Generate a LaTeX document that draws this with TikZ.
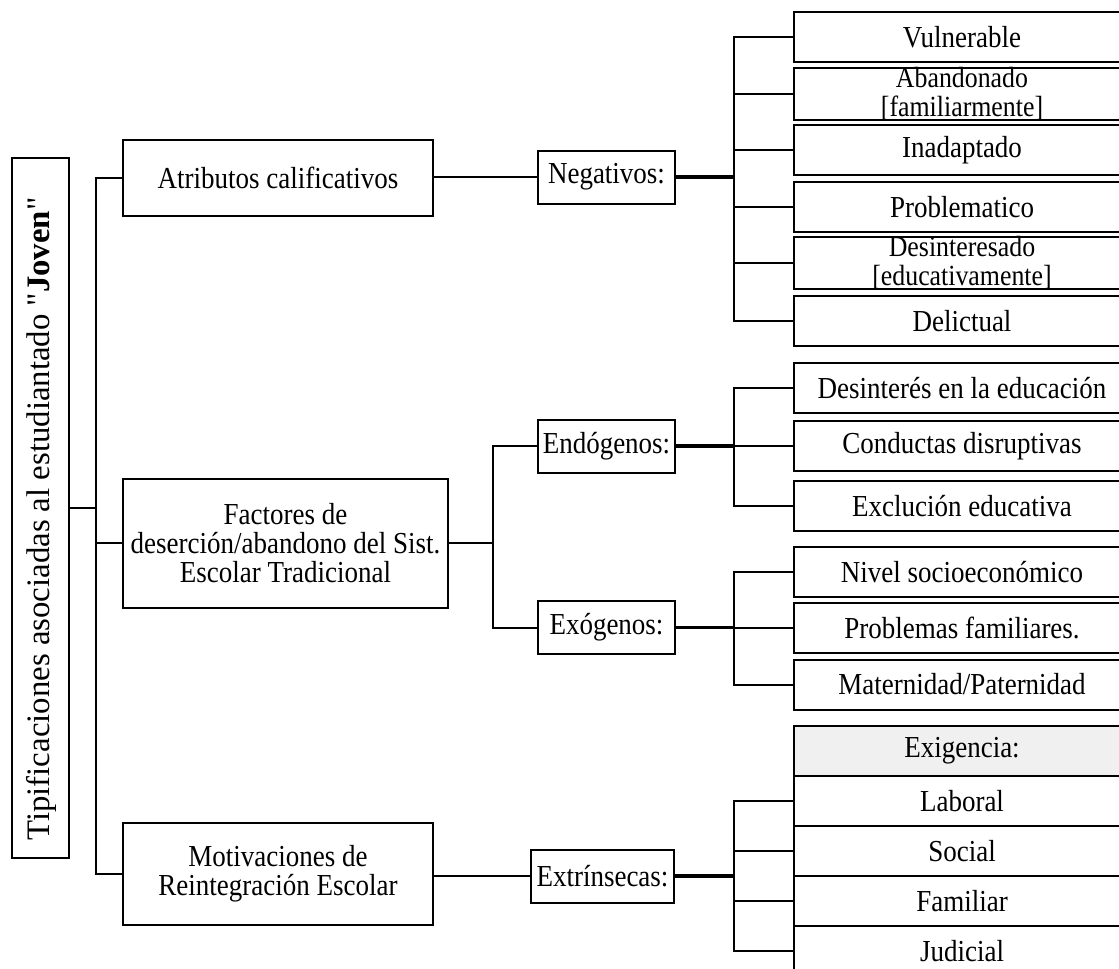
\documentclass[tikz,border=0pt]{standalone}
\usepackage{fontspec}
\setmainfont{Liberation Serif}[Ligatures=TeXOff]
% narrow variant used inside the horizontal boxes
\newfontfamily\boxfont{Liberation Serif}[FakeStretch=0.885,Ligatures=TeXOff]
\begin{document}
\begin{tikzpicture}[x=0.5pt,y=-0.5pt,
  box/.style={draw,line width=1pt,rectangle,inner sep=0pt,align=center,
              font=\boxfont\fontsize{15.25}{13.6}\selectfont},
  leaf/.style={box,minimum width=168pt,minimum height=25pt},
  twoline/.style={font=\boxfont\fontsize{14.6}{14.2}\selectfont},
  mid/.style={box,minimum height=26.5pt},
  wire/.style={line width=1pt},
  stub/.style={line width=1.6pt}]
\useasboundingbox (0,0) rectangle (1119,969);
\clip (0,0) rectangle (1119,969);

% root
\node[box,rotate=90,minimum width=350pt,minimum height=28.5pt] (root) at (40.5,508) {};
\node[rotate=90,inner sep=0pt,font=\fontsize{16.4}{16}\selectfont] (roottext) at (41,519)
  {Tipificaciones asociadas al estudiantado "\textbf{Joven}"};

% first level
\node[box,minimum width=155pt,minimum height=38pt] (att) at (278,178) {Atributos calificativos};
\node[box,minimum width=162.5pt,minimum height=64.5pt,font=\boxfont\fontsize{15.25}{14.4}\selectfont] (fac) at (285.5,543)
  {Factores de\\deserción/abandono del Sist.\\Escolar Tradicional};
\node[box,minimum width=155pt,minimum height=51pt,font=\boxfont\fontsize{15.25}{14.4}\selectfont] (mot) at (278,874)
  {Motivaciones de\\Reintegración Escolar};

% second level
\node[mid,minimum width=68.5pt] (neg) at (606.5,177) {Negativos:};
\node[mid,minimum width=68.5pt] (endo) at (606.5,446) {Endógenos:};
\node[mid,minimum width=68.5pt] (exo) at (606.5,627.5) {Exógenos:};
\node[mid,minimum width=71.5pt] (ext) at (602.5,876) {Extrínsecas:};

% leaves
\node[leaf] (l1) at (962,37) {Vulnerable};
\node[leaf,twoline] (l2) at (962,94) {Abandonado\\[0pt][familiarmente]};
\node[leaf] (l3) at (962,150) {Inadaptado};
\node[leaf] (l4) at (962,207) {Problematico};
\node[leaf,twoline] (l5) at (962,263) {Desinteresado\\[0pt][educativamente]};
\node[leaf] (l6) at (962,321) {Delictual};

\node[leaf] (e1) at (962,388) {Desinterés en la educación};
\node[leaf] (e2) at (962,446) {Conductas disruptivas};
\node[leaf] (e3) at (962,506) {Exclución educativa};

\node[leaf] (x1) at (962,572) {Nivel socioeconómico};
\node[leaf] (x2) at (962,628) {Problemas familiares.};
\node[leaf] (x3) at (962,684.5) {Maternidad/Paternidad};

\node[leaf,fill=black!6] (m0) at (962,751) {Exigencia:};
\node[leaf] (m1) at (962,801) {Laboral};
\node[leaf] (m2) at (962,851) {Social};
\node[leaf] (m3) at (962,901) {Familiar};
\node[leaf] (m4) at (962,951) {Judicial};

% branch lines
\coordinate (t0) at (96,0);
\coordinate (t1) at (493,0);
\coordinate (t2) at (734,0);

\draw[wire] (root.south) -- (t0 |- root.south);
\draw[wire] (att.west) -- (t0 |- att.west) -- (t0 |- mot.west) -- (mot.west);
\draw[wire] (t0 |- fac.west) -- (fac.west);

\draw[wire] (att.east |- neg.west) -- (neg.west);
\draw[wire] (mot.east |- ext.west) -- (ext.west);

\draw[wire] (fac.east) -- (t1 |- fac.east);
\draw[wire] (endo.west) -- (t1 |- endo.west) -- (t1 |- exo.west) -- (exo.west);

% negative attributes
\draw[stub] (neg.east) -- (t2 |- neg.east);
\draw[wire] (l1.west) -- (t2 |- l1.west) -- (t2 |- l6.west) -- (l6.west);
\foreach \n in {l2,l3,l4,l5} \draw[wire] (t2 |- \n.west) -- (\n.west);

% endogenous factors
\draw[stub] (endo.east) -- (t2 |- endo.east);
\draw[wire] (e1.west) -- (t2 |- e1.west) -- (t2 |- e3.west) -- (e3.west);
\draw[wire] (t2 |- e2.west) -- (e2.west);

% exogenous factors
\draw[stub] (exo.east) -- (t2 |- exo.east);
\draw[wire] (x1.west) -- (t2 |- x1.west) -- (t2 |- x3.west) -- (x3.west);
\draw[wire] (t2 |- x2.west) -- (x2.west);

% extrinsic motivations
\draw[stub] (ext.east) -- (t2 |- ext.east);
\draw[wire] (m1.west) -- (t2 |- m1.west) -- (t2 |- m4.west) -- (m4.west);
\foreach \n in {m2,m3} \draw[wire] (t2 |- \n.west) -- (\n.west);
\end{tikzpicture}
\end{document}
